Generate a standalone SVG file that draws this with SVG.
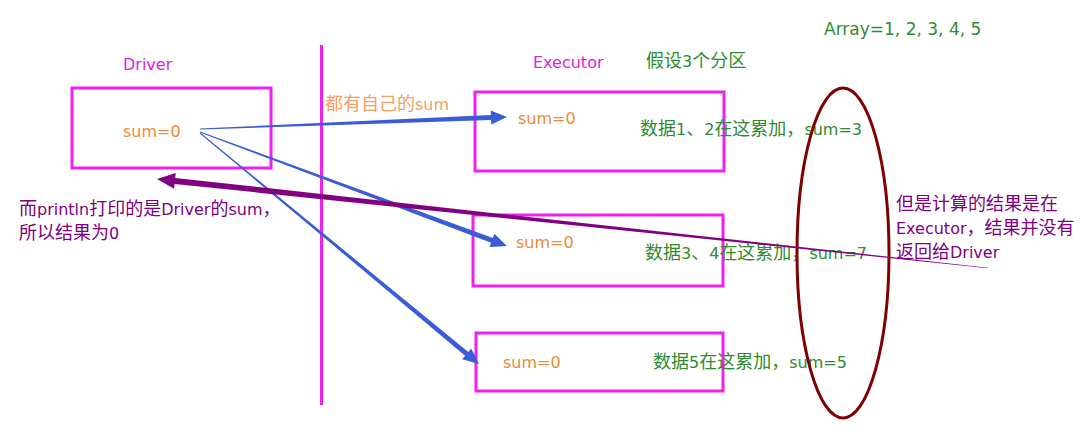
<svg xmlns="http://www.w3.org/2000/svg" width="1090" height="445" viewBox="0 0 1090 445">
<style>
text{font-family:"DejaVu Sans","Noto Sans CJK SC",sans-serif;font-size:16px}
.c{font-family:"Noto Sans CJK SC",sans-serif;font-size:18px}
.box{fill:none;stroke:#f020f0;stroke-width:3}
.mag{fill:#e020e0}
.org{fill:#f08838}
.grn{fill:#2e8b2e}
.pur{fill:#800080}
.lorg{fill:#f4a060}
.blue{fill:#3a5cd8}
</style>
<rect width="1090" height="445" fill="#fff"/>
<g id="divider"><line x1="321.5" y1="45" x2="321.5" y2="405" stroke="#f020f0" stroke-width="3"/></g>
<g id="driver">
<text x="123" y="70" class="mag">Driver</text>
<rect x="72" y="88" width="199" height="80" class="box"/>
<text x="123" y="137" class="org">sum=0</text>
</g>
<g id="executor-title">
<text x="533" y="68" class="mag">Executor</text>
<text x="646" y="67" class="grn"><tspan class="c">假设</tspan>3<tspan class="c">个分区</tspan></text>
<text x="824" y="35" class="grn" style="font-size:17px">Array=1, 2, 3, 4, 5</text>
</g>
<g id="executor1">
<rect x="475" y="92" width="249" height="79" class="box"/>
<text x="518" y="124" class="org">sum=0</text>
<text x="640" y="135" class="grn"><tspan class="c">数据</tspan>1<tspan class="c">、</tspan>2<tspan class="c">在这累加，</tspan>sum=3</text>
</g>
<g id="executor2">
<rect x="473" y="215" width="250" height="71" class="box"/>
<text x="516" y="248" class="org">sum=0</text>
<text x="645" y="259" class="grn"><tspan class="c">数据</tspan>3<tspan class="c">、</tspan>4<tspan class="c">在这累加，</tspan>sum=7</text>
</g>
<g id="executor3">
<rect x="476" y="333" width="247" height="58" class="box"/>
<text x="503" y="368" class="org">sum=0</text>
<text x="653" y="368" class="grn"><tspan class="c">数据</tspan>5<tspan class="c">在这累加，</tspan>sum=5</text>
</g>
<g id="partition-ellipse"><ellipse cx="843" cy="253" rx="46" ry="165" fill="none" stroke="#800000" stroke-width="3"/></g>
<g id="notes">
<text x="325" y="110" class="lorg"><tspan class="c">都有自己的</tspan>sum</text>
<text x="19" y="215" class="pur"><tspan class="c">而</tspan>println<tspan class="c">打印的是</tspan>Driver<tspan class="c">的</tspan>sum<tspan class="c">，</tspan></text>
<text x="19" y="239" class="pur"><tspan class="c">所以结果为</tspan>0</text>
<text x="896" y="210" class="pur"><tspan class="c">但是计算的结果是在</tspan></text>
<text x="896" y="234" class="pur">Executor<tspan class="c">，结果并没有</tspan></text>
<text x="896" y="258" class="pur"><tspan class="c">返回给</tspan>Driver</text>
</g>
<g id="connectors">
<polygon class="blue" points="200,128.5 490.9,115.1 490.7,110.6 507,117 491.3,124.6 491.1,120.1 200,129.5"/>
<polygon class="blue" points="200.17,131.53 492.87,238.06 494.44,233.84 507,246 489.56,246.96 491.13,242.74 199.83,132.47"/>
<polygon class="blue" points="200.32,132.61 468.3,351.9 471.2,348.4 479,364 462.2,359.2 465.1,355.7 199.68,133.39"/>
<polygon class="pur" points="988.03,267.7 175.2,177.9 175.75,172.95 157,179 174.05,188.85 174.6,183.9 987.97,268.3"/>
</g>
</svg>
